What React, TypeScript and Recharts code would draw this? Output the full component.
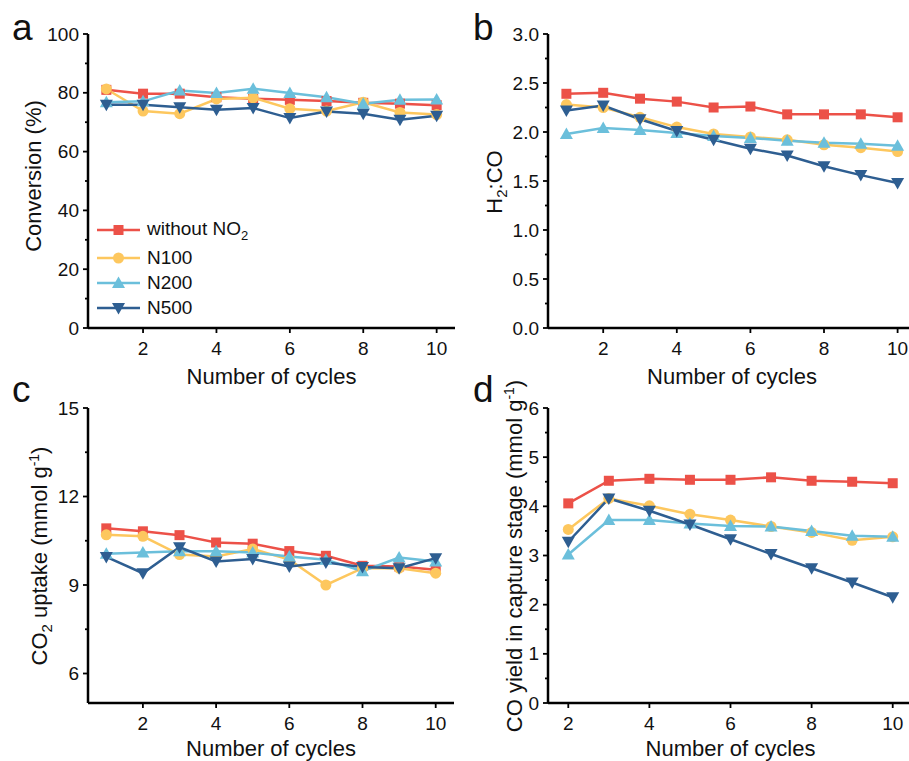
import React from 'react'
import { LineChart, Line, XAxis, YAxis, Legend } from 'recharts'

const FONT = '"Liberation Sans", Arial, sans-serif'

const cycles = [1, 2, 3, 4, 5, 6, 7, 8, 9, 10]
const cyclesD = [2, 3, 4, 5, 6, 7, 8, 9, 10]

// a: conversion (%)
const convWithout = [81.0, 79.7, 79.7, 78.5, 78.0, 77.6, 77.2, 76.6, 76.3, 75.8]
const convN100 = [81.3, 73.8, 72.9, 77.9, 78.3, 74.6, 73.8, 76.8, 73.3, 72.6]
const convN200 = [76.8, 77.1, 80.8, 79.9, 81.4, 79.9, 78.5, 76.3, 77.6, 77.7]
const convN500 = [75.9, 75.9, 75.1, 74.2, 74.8, 71.4, 73.6, 72.9, 70.8, 72.2]

// b: H2:CO ratio
const ratioWithout = [2.39, 2.4, 2.34, 2.31, 2.25, 2.26, 2.18, 2.18, 2.18, 2.15]
const ratioN100 = [2.28, 2.25, 2.15, 2.05, 1.98, 1.95, 1.92, 1.87, 1.84, 1.8]
const ratioN200 = [1.98, 2.04, 2.02, 1.99, 1.96, 1.94, 1.91, 1.89, 1.88, 1.86]
const ratioN500 = [2.22, 2.27, 2.13, 2.01, 1.92, 1.83, 1.76, 1.65, 1.56, 1.48]

// c: CO2 uptake
const uptakeWithout = [10.92, 10.82, 10.69, 10.44, 10.4, 10.15, 9.99, 9.65, 9.63, 9.52]
const uptakeN100 = [10.7, 10.65, 10.03, 9.97, 10.22, 9.86, 9.0, 9.57, 9.57, 9.4]
const uptakeN200 = [10.06, 10.1, 10.14, 10.14, 10.1, 9.97, 9.86, 9.47, 9.93, 9.8]
const uptakeN500 = [9.95, 9.4, 10.28, 9.8, 9.88, 9.63, 9.76, 9.61, 9.57, 9.91]

// d: CO yield in capture stage
const yieldWithout = [4.06, 4.52, 4.56, 4.54, 4.54, 4.59, 4.52, 4.5, 4.47]
const yieldN100 = [3.53, 4.16, 4.01, 3.84, 3.72, 3.59, 3.47, 3.31, 3.38]
const yieldN200 = [3.02, 3.72, 3.72, 3.65, 3.6, 3.59, 3.5, 3.4, 3.38]
const yieldN500 = [3.28, 4.16, 3.91, 3.63, 3.33, 3.03, 2.74, 2.45, 2.15]

const xTicks = [2, 4, 6, 8, 10]
const convTicks = [0, 10, 20, 30, 40, 50, 60, 70, 80, 90, 100]
const convMajor = [0, 20, 40, 60, 80, 100]
const ratioTicks = [0, 0.25, 0.5, 0.75, 1, 1.25, 1.5, 1.75, 2, 2.25, 2.5, 2.75, 3]
const ratioMajor = [0, 0.5, 1, 1.5, 2, 2.5, 3]
const uptakeTicks = [6, 7.5, 9, 10.5, 12, 13.5, 15]
const uptakeMajor = [6, 9, 12, 15]
const yieldTicks = [0, 0.5, 1, 1.5, 2, 2.5, 3, 3.5, 4, 4.5, 5, 5.5, 6]
const yieldMajor = [0, 1, 2, 3, 4, 5, 6]

type Shape = 'square' | 'circle' | 'up' | 'down'

const SERIES: { key: string; color: string; shape: Shape }[] = [
  { key: 's0', color: '#EC5148', shape: 'square' },
  { key: 's1', color: '#FDC75E', shape: 'circle' },
  { key: 's2', color: '#6BBFDB', shape: 'up' },
  { key: 's3', color: '#2E5E91', shape: 'down' },
]

function toRows(xs: number[], cols: number[][]) {
  return xs.map((x, i) => {
    const row: Record<string, number> = { x }
    cols.forEach((c, j) => { row['s' + j] = c[i] })
    return row
  })
}

function Marker({ shape, cx, cy, color }: { shape: Shape; cx: number; cy: number; color: string }) {
  if (shape === 'square') return <rect x={cx - 5} y={cy - 5} width={10} height={10} fill={color} />
  if (shape === 'circle') return <circle cx={cx} cy={cy} r={5.5} fill={color} />
  if (shape === 'up')
    return <polygon points={`${cx},${cy - 6.5} ${cx - 6.5},${cy + 5} ${cx + 6.5},${cy + 5}`} fill={color} />
  return <polygon points={`${cx - 6.5},${cy - 5} ${cx + 6.5},${cy - 5} ${cx},${cy + 6.5}`} fill={color} />
}

const makeYTick = (major: number[], digits: number) => (props: any) => {
  const { x, y, payload } = props
  const isMajor = major.includes(payload.value)
  return (
    <g>
      <line x1={x} x2={x - (isMajor ? 5 : 3)} y1={y} y2={y} stroke="#000" strokeWidth={1.8} />
      {isMajor && (
        <text x={x - 9} y={y} dy="0.35em" textAnchor="end" fontSize={19} fontFamily={FONT} fill="#111">
          {payload.value.toFixed(digits)}
        </text>
      )}
    </g>
  )
}

const XTick = (props: any) => {
  const { x, y, payload } = props
  return (
    <g>
      <line x1={x} x2={x} y1={y} y2={y + 5} stroke="#000" strokeWidth={1.8} />
      <text x={x} y={y + 20} dy="0.35em" textAnchor="middle" fontSize={19} fontFamily={FONT} fill="#111">
        {payload.value}
      </text>
    </g>
  )
}

const XTitle = (props: any) => {
  const { viewBox, gap } = props
  return (
    <text x={viewBox.x + viewBox.width / 2} y={viewBox.y + gap} dy="0.35em" textAnchor="middle"
      fontSize={22} fontFamily={FONT} fill="#111">
      Number of cycles
    </text>
  )
}

const YTitle = (props: any) => {
  const { tx, ty, letter, lx, ly, title } = props
  return (
    <g fontFamily={FONT} fill="#111">
      <text x={lx} y={ly} fontSize={37}>{letter}</text>
      <text x={tx} y={ty} dy="0.35em" textAnchor="middle" fontSize={22} transform={`rotate(-90 ${tx} ${ty})`}>
        {title}
      </text>
    </g>
  )
}

const LegendBox = () => (
  <div style={{ fontFamily: FONT, fontSize: 19, color: '#111' }}>
    {SERIES.map((s, i) => (
      <div key={s.key} style={{ display: 'flex', alignItems: 'center', height: i === 0 ? 30 : 25 }}>
        <svg width={46} height={16}>
          <line x1={0} x2={43} y1={8} y2={8} stroke={s.color} strokeWidth={2.5} />
          <Marker shape={s.shape} cx={21.5} cy={8} color={s.color} />
        </svg>
        <span style={{ marginLeft: 4, whiteSpace: 'nowrap' }}>
          {i === 0 ? <>without NO<sub style={{ fontSize: 13 }}>2</sub></> : ['N100', 'N200', 'N500'][i - 1]}
        </span>
      </div>
    ))}
  </div>
)

interface PanelProps {
  left: number
  top: number
  width: number
  height: number
  margin: { top: number; right: number; bottom: number; left: number }
  xAxisHeight: number
  titleGap: number
  data: Record<string, number>[]
  xDomain: [number, number]
  yDomain: [number, number]
  yTicks: number[]
  yMajor: number[]
  digits: number
  title: React.ReactNode
  letter: string
  tx: number
  ty: number
  lx: number
  ly: number
  legend?: boolean
}

function Panel(p: PanelProps) {
  return (
    <div style={{ position: 'absolute', left: p.left, top: p.top }}>
      <LineChart width={p.width} height={p.height} data={p.data} margin={p.margin}>
        <XAxis dataKey="x" type="number" domain={p.xDomain} ticks={xTicks} interval={0}
          tickSize={0} tickMargin={0} tick={XTick} height={p.xAxisHeight}
          axisLine={{ stroke: '#000', strokeWidth: 2.5 }} label={<XTitle gap={p.titleGap} />} />
        <XAxis xAxisId="top" orientation="top" dataKey="x" type="number" domain={p.xDomain}
          height={0} tick={false} tickLine={false} axisLine={{ stroke: '#000', strokeWidth: 2.5 }} />
        <YAxis type="number" domain={p.yDomain} ticks={p.yTicks} interval={0} width={88}
          tickSize={0} tickMargin={0} tick={makeYTick(p.yMajor, p.digits)}
          axisLine={{ stroke: '#000', strokeWidth: 2.5 }}
          label={<YTitle tx={p.tx} ty={p.ty} lx={p.lx} ly={p.ly} letter={p.letter} title={p.title} />} />
        <YAxis yAxisId="right" orientation="right" type="number" domain={p.yDomain} width={0}
          tick={false} tickLine={false} axisLine={{ stroke: '#000', strokeWidth: 2.5 }} />
        {p.legend && (
          <Legend layout="vertical" align="center" verticalAlign="middle" content={<LegendBox />}
            wrapperStyle={{ position: 'absolute', left: 97, top: 215, width: 'auto', height: 'auto' }} />
        )}
        {SERIES.map(s => (
          <Line key={s.key} dataKey={s.key} type="linear" stroke={s.color} strokeWidth={2.5}
            isAnimationActive={false}
            dot={(d: any) => <Marker key={`${s.key}-${d.index}`} shape={s.shape} cx={d.cx} cy={d.cy} color={s.color} />}
            activeDot={false} />
        ))}
      </LineChart>
    </div>
  )
}

export default function App() {
  const dataA = toRows(cycles, [convWithout, convN100, convN200, convN500])
  const dataB = toRows(cycles, [ratioWithout, ratioN100, ratioN200, ratioN500])
  const dataC = toRows(cycles, [uptakeWithout, uptakeN100, uptakeN200, uptakeN500])
  const dataD = toRows(cyclesD, [yieldWithout, yieldN100, yieldN200, yieldN500])

  return (
    <div style={{ position: 'absolute', left: 0, top: 0, width: 909, height: 761, overflow: 'hidden', background: '#fff' }}>
      <Panel left={0} top={0} width={460} height={390} margin={{ top: 34, right: 5, bottom: 0, left: 0 }}
        xAxisHeight={62} titleGap={48} data={dataA} xDomain={[0.5, 10.5]} yDomain={[0, 100]}
        yTicks={convTicks} yMajor={convMajor} digits={0}
        title="Conversion (%)" letter="a" tx={33} ty={176} lx={12} ly={40} legend />
      <Panel left={460} top={0} width={460} height={390} margin={{ top: 34, right: 4, bottom: 0, left: 0 }}
        xAxisHeight={62} titleGap={48} data={dataB} xDomain={[0.5, 10.5]} yDomain={[0, 3]}
        yTicks={ratioTicks} yMajor={ratioMajor} digits={1}
        title={<>H<tspan dy={5} fontSize={15}>2</tspan><tspan dy={-5}>:CO</tspan></>}
        letter="b" tx={34} ty={182} lx={13} ly={40} />
      <Panel left={0} top={360} width={460} height={410} margin={{ top: 48, right: 6, bottom: 0, left: 0 }}
        xAxisHeight={67} titleGap={45} data={dataC} xDomain={[0.5, 10.5]} yDomain={[5, 15]}
        yTicks={uptakeTicks} yMajor={uptakeMajor} digits={0}
        title={<>CO<tspan dy={5} fontSize={15}>2</tspan><tspan dy={-5}> uptake (mmol g</tspan><tspan dy={-8} fontSize={14}>-1</tspan><tspan dy={8}>)</tspan></>}
        letter="c" tx={39} ty={196} lx={12} ly={42} />
      <Panel left={460} top={360} width={460} height={410} margin={{ top: 48, right: 7, bottom: 0, left: 0 }}
        xAxisHeight={67} titleGap={45} data={dataD} xDomain={[1.5, 10.5]} yDomain={[0, 6]}
        yTicks={yieldTicks} yMajor={yieldMajor} digits={0}
        title={<>CO yield in capture stage (mmol g<tspan dy={-8} fontSize={14}>-1</tspan><tspan dy={8}>)</tspan></>}
        letter="d" tx={54} ty={196} lx={13} ly={42} />
    </div>
  )
}
